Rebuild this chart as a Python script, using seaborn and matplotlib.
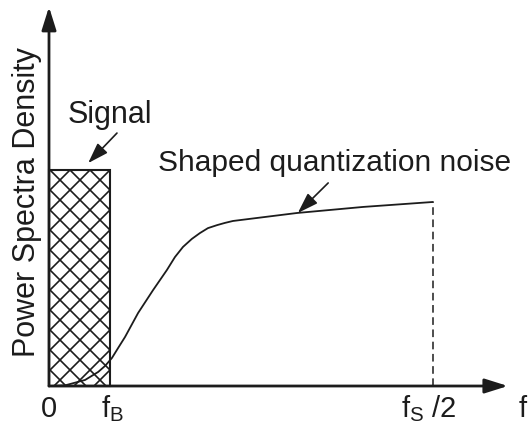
import matplotlib
matplotlib.use("Agg")
import matplotlib.pyplot as plt
import seaborn as sns

# frequency normalised so that fs/2 = 1, PSD normalised so that signal level = 1
F_B = 0.159
SIGNAL_LEVEL = 1.0
FREQ = [0.0, 0.042, 0.094, 0.128, 0.146, 0.164, 0.180, 0.198, 0.232, 0.271,
        0.307, 0.328, 0.349, 0.372, 0.393, 0.414, 0.438, 0.458, 0.479,
        0.542, 0.646, 0.818, 1.0]
NOISE_PSD = [0.0, 0.003, 0.028, 0.065, 0.093, 0.130, 0.176, 0.227, 0.338, 0.444,
             0.537, 0.597, 0.644, 0.681, 0.708, 0.731, 0.745, 0.755, 0.764,
             0.778, 0.801, 0.829, 0.852]
TICK_POS = [0.0, 0.164, 0.99, 1.234]
TICK_TEXT = ["0", r"f$_\mathrm{B}$", r"f$_\mathrm{S}$ /2", "f"]

# render at 120 dpi so the 'xx' hatch gets ~10 px cells; S keeps sizes in pixels
DPI = 120
S = 100 / DPI

sns.set_theme(style="white")
plt.rcParams["font.family"] = ["Liberation Sans", "DejaVu Sans"]
plt.rcParams["mathtext.fontset"] = "custom"
plt.rcParams["mathtext.rm"] = "Liberation Sans"
plt.rcParams["mathtext.it"] = "Liberation Sans"
plt.rcParams["hatch.linewidth"] = 1.2 * S

ink = "#1c1c1c"
fig = plt.figure(figsize=(530 / DPI, 428 / DPI), dpi=DPI)
fig.patch.set_facecolor("white")
ax = fig.add_axes([0, 0, 1, 1])
ax.set_xlim(-0.1276, 1.2526)
ax.set_ylim(-0.1944, 1.787)
ax.axis("off")

# signal band (cross-hatched)
ax.bar(0, SIGNAL_LEVEL, width=F_B, align="edge", fill=False, hatch="xx",
       edgecolor=ink, linewidth=1.5 * S, zorder=2)

# shaped quantization noise
sns.lineplot(x=FREQ, y=NOISE_PSD, ax=ax, color=ink, linewidth=1.3 * S, zorder=3)
ax.vlines(FREQ[-1], 0, NOISE_PSD[-1], colors=ink, linewidth=1.1 * S,
          linestyles=(0, (5, 3)), zorder=3)

# axes with arrows
arrow_kw = dict(arrowstyle="-|>,head_length=0.7,head_width=0.22",
                color=ink, lw=2 * S, mutation_scale=20 * S, shrinkA=0, shrinkB=0)
ax.annotate("", xy=(1.195, 0), xytext=(0, 0), arrowprops=arrow_kw, zorder=4)
ax.annotate("", xy=(0, 1.755), xytext=(0, 0), arrowprops=arrow_kw, zorder=4)

ax.text(-0.057, 0.852, "Power Spectra Density", rotation=90, fontsize=22 * S,
        ha="center", va="center", color=ink)

# tick labels
for pos, txt in zip(TICK_POS, TICK_TEXT):
    ax.text(pos, -0.105, txt, fontsize=21 * S, ha="center", va="center", color=ink)

# annotations
pointer = dict(arrowstyle="-|>,head_length=0.9,head_width=0.3", color=ink,
               lw=1.2 * S, mutation_scale=14 * S, shrinkA=0, shrinkB=0)
ax.text(0.159, 1.255, "Signal", fontsize=22 * S, ha="center", va="center", color=ink)
ax.annotate("", xy=(0.102, 1.032), xytext=(0.177, 1.171), arrowprops=pointer)
ax.text(0.284, 1.032, "Shaped quantization noise", fontsize=21.5 * S,
        ha="left", va="center", color=ink)
ax.annotate("", xy=(0.648, 0.801), xytext=(0.727, 0.940), arrowprops=pointer)

plt.savefig("out.png", dpi=DPI)
plt.close()
